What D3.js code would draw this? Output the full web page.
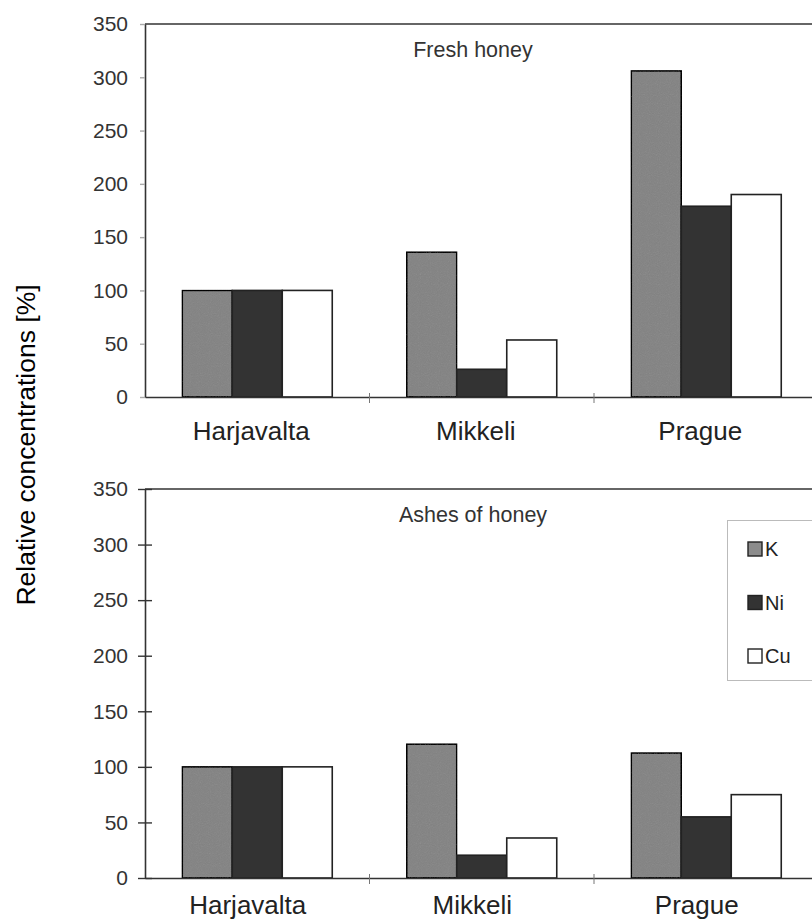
<!DOCTYPE html>
<html>
<head>
<meta charset="utf-8">
<script src="https://cdn.jsdelivr.net/npm/d3@7"></script>
<style>
  body { margin: 0; background: #fff; }
  svg { font-family: "Liberation Sans", Arial, sans-serif; }
</style>
</head>
<body>
<div id="chart"></div>
<script>
const sites = ["Harjavalta", "Mikkeli", "Prague"];
const elements = ["K", "Ni", "Cu"];
const freshK = [100, 136, 306];
const freshNi = [100, 26, 179];
const freshCu = [100, 53.5, 190];
const ashK = [100, 120.5, 112.5];
const ashNi = [100, 20.5, 55];
const ashCu = [100, 36, 75];
const yTicks = [0, 50, 100, 150, 200, 250, 300, 350];
const fills = { K: "#8c8c8c", Ni: "#333333", Cu: "#ffffff" };

const W = 812, H = 919;
const svg = d3.select("#chart").append("svg").attr("width", W).attr("height", H);

// slight grain on K bars, like the scanned print
const defs = svg.append("defs");
const filt = defs.append("filter").attr("id", "grain");
filt.append("feTurbulence").attr("type", "fractalNoise").attr("baseFrequency", 0.9).attr("numOctaves", 1).attr("result", "n");
filt.append("feColorMatrix").attr("in", "n").attr("type", "saturate").attr("values", 0).attr("result", "g");
filt.append("feComposite").attr("in", "SourceGraphic").attr("in2", "g").attr("operator", "arithmetic")
  .attr("k1", 0).attr("k2", 1).attr("k3", 0.12).attr("k4", -0.06).attr("result", "c");
filt.append("feComposite").attr("in", "c").attr("in2", "SourceGraphic").attr("operator", "in");

const x0 = d3.scaleBand().domain(sites).range([145, 818.5]);
const x1 = d3.scaleBand().domain(elements).range([0, x0.bandwidth()]).paddingOuter(0.745);

function panel(top, bottom, title, series, crossTicks, labelGap, labelShift, legend) {
  const y = d3.scaleLinear().domain([0, 350]).range([bottom, top]);
  const g = svg.append("g");

  const rows = sites.map((s, i) => ({ site: s, vals: elements.map((e, j) => ({ el: e, v: series[j][i] })) }));

  g.selectAll("g.grp").data(rows).enter().append("g")
    .attr("transform", d => `translate(${x0(d.site)},0)`)
    .selectAll("rect").data(d => d.vals).enter().append("rect")
    .attr("x", d => x1(d.el))
    .attr("y", d => y(d.v))
    .attr("width", x1.bandwidth())
    .attr("height", d => y(0) - y(d.v))
    .attr("fill", d => fills[d.el])
    .attr("filter", d => d.el === "K" ? "url(#grain)" : null)
    .attr("stroke", "#222")
    .attr("stroke-width", 1.6);

  // y axis
  const yAxis = d3.axisLeft(y).tickValues(yTicks).tickSize(crossTicks ? 7 : 5).tickSizeOuter(0);
  const ya = g.append("g").attr("transform", "translate(145,0)").call(yAxis);
  ya.select(".domain").attr("stroke", "#333").attr("stroke-width", 1.6);
  ya.selectAll(".tick line").attr("stroke", crossTicks ? "#333" : "#aaa").attr("stroke-width", 1.4);
  if (crossTicks) ya.selectAll(".tick line").attr("x2", 7).attr("x1", -7);
  ya.selectAll(".tick text").attr("x", -17).attr("font-size", 21).attr("fill", "#333");

  // top frame line
  g.append("line").attr("x1", 145).attr("x2", W).attr("y1", y(350)).attr("y2", y(350))
    .attr("stroke", "#333").attr("stroke-width", 1.6);

  // x axis
  const xAxis = d3.axisBottom(x0).tickSize(0).tickSizeOuter(0);
  const xa = g.append("g").attr("transform", `translate(0,${y(0)})`).call(xAxis);
  xa.select(".domain").attr("stroke", "#333").attr("stroke-width", 1.6);
  xa.selectAll(".tick text").attr("font-size", 26).attr("fill", "#222")
    .attr("dy", 0).attr("y", labelGap).attr("x", labelShift);

  // separators between site groups
  g.selectAll("line.sep").data(sites.slice(1)).enter().append("line")
    .attr("x1", d => x0(d)).attr("x2", d => x0(d))
    .attr("y1", y(0) - 4).attr("y2", y(0) + 6)
    .attr("stroke", "#777").attr("stroke-width", 1);

  g.append("text").attr("x", 473).attr("y", top + 33)
    .attr("text-anchor", "middle").attr("font-size", 21.5).attr("fill", "#333").text(title);

  if (legend) {
    const lg = g.append("g");
    lg.append("rect").attr("x", 727.5).attr("y", 520.5).attr("width", 100).attr("height", 160)
      .attr("fill", "#fff").attr("stroke", "#bbb").attr("stroke-width", 1);
    const ly = d3.scalePoint().domain(elements).range([549, 656]);
    const it = lg.selectAll("g.it").data(elements).enter().append("g")
      .attr("transform", d => `translate(748,${ly(d)})`);
    it.append("rect").attr("x", 0).attr("y", -7).attr("width", 14).attr("height", 14)
      .attr("fill", d => fills[d]).attr("stroke", "#222").attr("stroke-width", 1.4);
    it.append("text").attr("x", 17).attr("y", 0).attr("dy", "0.36em")
      .attr("font-size", 20).attr("fill", "#222").text(d => d);
  }
}

panel(24, 397, "Fresh honey", [freshK, freshNi, freshCu], false, 43, -6, false);
panel(489, 878, "Ashes of honey", [ashK, ashNi, ashCu], true, 36, -9.5, true);

svg.append("text").attr("transform", "translate(35,445) rotate(-90)")
  .attr("text-anchor", "middle").attr("font-size", 26.5).attr("fill", "#000")
  .text("Relative concentrations [%]");
</script>
</body>
</html>
